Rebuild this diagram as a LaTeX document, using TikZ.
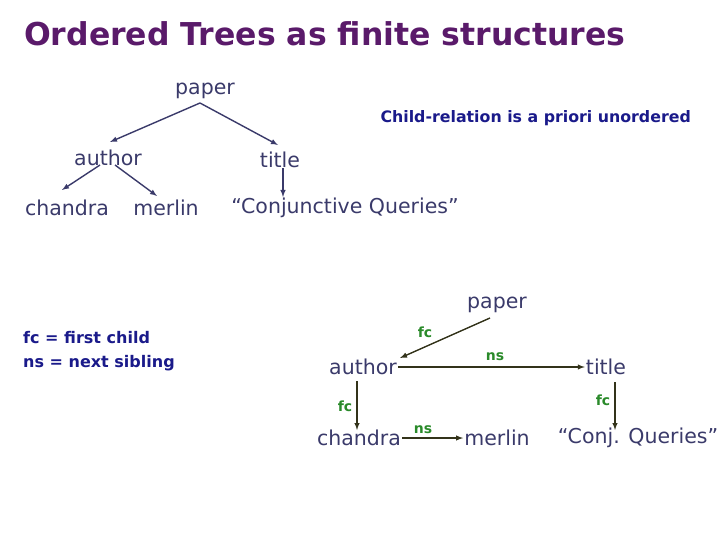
\documentclass[tikz,border=0pt]{standalone}
\usepackage{fontspec}
\setmainfont{DejaVu Sans}
\begin{document}
\begin{tikzpicture}[x=1pt,y=-1pt,
  t/.style={text=txt,font=\fontsize{20.5}{23}\selectfont,inner sep=1pt},
  lb/.style={text=grn,font=\bfseries\fontsize{14}{15}\selectfont,inner sep=0pt},
  up/.style={draw=txt,line width=1.4pt,-latex},
  lo/.style={draw=dk,line width=1.4pt,-latex}]
\definecolor{txt}{HTML}{3A3A6A}
\definecolor{ttl}{HTML}{5A1A6A}
\definecolor{grn}{HTML}{2A8A2A}
\definecolor{dk}{HTML}{33331A}
\definecolor{blu}{HTML}{1A1A8A}
\useasboundingbox (0,0) rectangle (720,540);
\node[anchor=west,text=ttl,font=\bfseries\fontsize{31.5}{34}\selectfont,inner sep=0pt] (T) at (24,34) {Ordered Trees as finite structures};
\node[t] (p1) at (205,91) {paper};
\node[t] (a1) at (108,158) {author};
\node[t] (t1) at (280,160) {title};
\node[t] (c1) at (67,208) {chandra};
\node[t] (m1) at (166,208) {merlin};
\node[t] (q1) at (345,208) {“Conjunctive Queries”};
\node[anchor=east,inner sep=0pt,text=blu,font=\bfseries\fontsize{15.8}{17}\selectfont] (cr) at (691,118) {Child-relation is a priori unordered};
\coordinate (pb) at (200,103);
\draw[up] (pb) -- (110,142);
\draw[up] (pb) -- (278,145);
\draw[up] (100,165) -- (62,190);
\draw[up] (115,165) -- (157,196);
\draw[up] (283,168) -- (283,197);
\node[anchor=west,inner sep=0pt,text=blu,font=\bfseries\fontsize{16}{24}\selectfont,align=left] (leg) at (23,351) {fc = first child\\ns = next sibling};
\node[t] (p2) at (497,305) {paper};
\node[t] (a2) at (363,367) {author};
\node[t] (t2) at (606,367) {title};
\node[t] (c2) at (359,438) {chandra};
\node[t] (m2) at (497,438) {merlin};
\node[t] (q2) at (638,438) {“Conj. Queries”};
\draw[lo] (490,318) -- (400,358);
\draw[lo] (a2.east) -- (t2.west);
\draw[lo] (357,381) -- (357,430);
\draw[lo] (615,382) -- (615,430);
\draw[lo] (c2.east) -- (m2.west);
\node[lb] at (425,332) {fc};
\node[lb] at (495,357) {ns};
\node[lb] at (345,406) {fc};
\node[lb] at (603,400) {fc};
\node[lb] at (423,430) {ns};
\end{tikzpicture}
\end{document}
